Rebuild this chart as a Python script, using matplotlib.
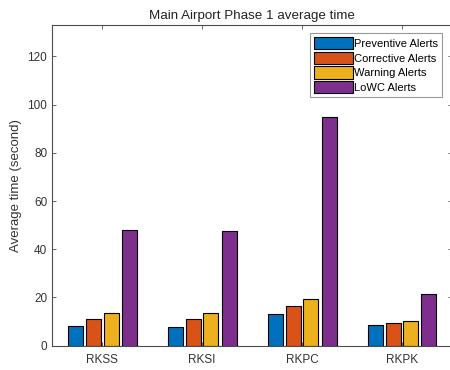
import matplotlib
matplotlib.use("Agg")
import matplotlib.pyplot as plt
import numpy as np

plt.rcParams['font.family'] = ['Liberation Sans', 'DejaVu Sans']

airports = ["RKSS", "RKSI", "RKPC", "RKPK"]
series_names = ["Preventive Alerts", "Corrective Alerts", "Warning Alerts", "LoWC Alerts"]
preventive = [8.1, 7.9, 13.2, 8.4]
corrective = [10.9, 10.9, 16.6, 9.3]
warning = [13.7, 13.7, 19.3, 10.4]
lowc = [47.9, 47.6, 94.8, 21.4]
y_ticks = [0, 20, 40, 60, 80, 100, 120]

colors = ["#0072BD", "#D95319", "#EDB120", "#7E2F8E"]
series = [preventive, corrective, warning, lowc]

fig = plt.figure(figsize=(4.5, 3.7), dpi=100)
ax = fig.add_axes([52 / 450, 24.3 / 370, 400 / 450, 320.7 / 370])

x = np.arange(1, len(airports) + 1)
offsets = [-0.27, -0.09, 0.09, 0.27]
width = 0.15
for vals, off, col, name in zip(series, offsets, colors, series_names):
    ax.bar(x + off, vals, width=width, color=col, edgecolor="black",
           linewidth=0.8, label=name)

ax.set_xlim(0.5, 4.5)
ax.set_ylim(0, 133)
ax.set_xticks(x)
ax.set_xticklabels(airports)
ax.set_yticks(y_ticks)

gray = "#4d4d4d"
for sp in ax.spines.values():
    sp.set_color(gray)
    sp.set_linewidth(0.8)
ax.tick_params(direction="in", top=True, right=True, length=3, width=0.6,
               colors=gray, labelsize=8.5, labelcolor="#333333")
ax.tick_params(axis="x", pad=6)

ax.set_title("Main Airport Phase 1 average time", fontsize=9.6, color="#222222", pad=4)
ax.set_ylabel("Average time (second)", fontsize=9.5, color="#333333", labelpad=4)

leg = ax.legend(loc="upper left", bbox_to_anchor=(0.645, 0.975), fontsize=8,
                frameon=True, fancybox=False, handlelength=3.5, handleheight=1.35,
                handletextpad=0.15, labelspacing=0.2, borderpad=0.35,
                borderaxespad=0)
leg.get_frame().set_edgecolor("#808080")
leg.get_frame().set_linewidth(0.8)

fig.savefig("out.png", dpi=100)
